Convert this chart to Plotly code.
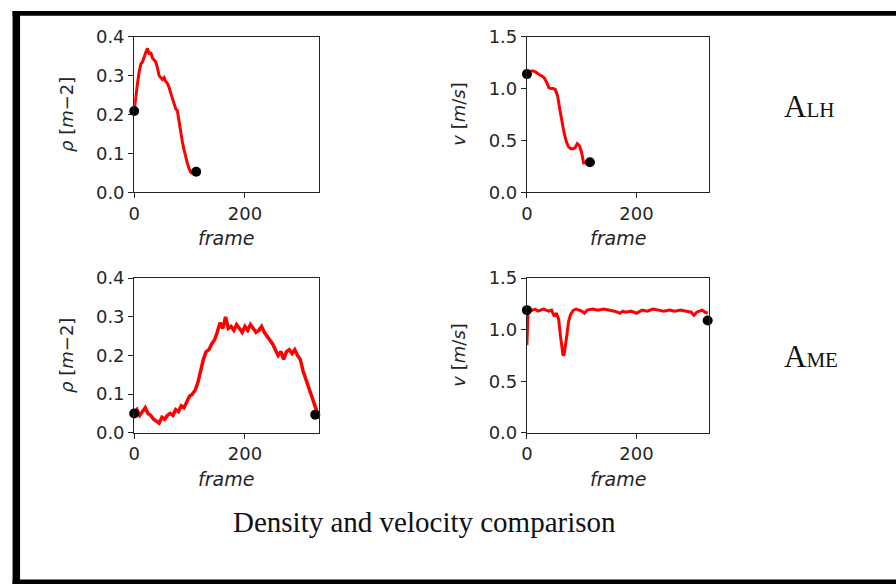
import plotly.graph_objects as go

W, H = 896, 596

# ---------------- data ----------------
alh_rho_frames = [0, 3, 6, 9, 12, 15, 18, 21, 24, 27, 30, 33, 36, 39, 42, 45, 48, 51,
                  54, 57, 60, 63, 66, 69, 72, 75, 78, 81, 84, 87, 90, 93, 96, 99, 102, 105]
alh_rho = [0.21, 0.25, 0.28, 0.31, 0.33, 0.335, 0.35, 0.36, 0.37, 0.355, 0.36, 0.345,
           0.34, 0.335, 0.32, 0.30, 0.295, 0.29, 0.295, 0.285, 0.28, 0.27, 0.255, 0.24,
           0.23, 0.215, 0.21, 0.18, 0.16, 0.13, 0.11, 0.09, 0.075, 0.062, 0.052, 0.048]
alh_rho_dot_frames = [0, 112]
alh_rho_dots = [0.209, 0.053]

alh_v_frames = [0, 4, 8, 12, 16, 20, 24, 28, 32, 36, 40, 44, 48, 52, 56, 60, 64, 68,
                72, 76, 80, 84, 88, 92, 96, 100, 104]
alh_v = [1.13, 1.16, 1.17, 1.17, 1.16, 1.14, 1.13, 1.12, 1.10, 1.06, 1.01, 1.00, 1.00,
         0.99, 0.93, 0.80, 0.68, 0.57, 0.49, 0.44, 0.42, 0.42, 0.43, 0.47, 0.45, 0.38, 0.27]
alh_v_dot_frames = [0, 115]
alh_v_dots = [1.14, 0.29]

ame_rho_frames = [0, 5, 10, 15, 20, 25, 30, 35, 40, 45, 50, 55, 60, 65, 70, 75, 80, 85,
                  90, 95, 100, 105, 110, 115, 120, 125, 130, 135, 140, 145, 150, 155,
                  160, 165, 170, 175, 180, 185, 190, 195, 200, 205, 210, 215, 220, 225,
                  230, 235, 240, 245, 250, 255, 260, 265, 270, 275, 280, 285, 290, 295,
                  300, 305, 310, 315, 320, 325, 330]
ame_rho = [0.05, 0.06, 0.045, 0.055, 0.065, 0.05, 0.045, 0.035, 0.03, 0.025, 0.04, 0.035,
           0.045, 0.05, 0.045, 0.06, 0.055, 0.07, 0.065, 0.08, 0.095, 0.10, 0.11, 0.13,
           0.16, 0.19, 0.21, 0.215, 0.23, 0.24, 0.26, 0.285, 0.27, 0.30, 0.27, 0.275,
           0.265, 0.28, 0.27, 0.26, 0.275, 0.265, 0.28, 0.27, 0.26, 0.265, 0.275, 0.26,
           0.25, 0.24, 0.23, 0.215, 0.20, 0.21, 0.19, 0.21, 0.215, 0.205, 0.215, 0.20,
           0.19, 0.16, 0.14, 0.12, 0.10, 0.08, 0.055]
ame_rho_dot_frames = [0, 327]
ame_rho_dots = [0.05, 0.047]

ame_v_frames = [0, 2, 4, 10, 15, 20, 25, 30, 35, 40, 45, 50, 54, 58, 61, 64, 66, 68, 70,
                73, 76, 80, 85, 90, 95, 100, 105, 110, 120, 130, 140, 150, 160, 170, 175,
                180, 190, 200, 210, 220, 230, 240, 250, 260, 270, 280, 290, 300, 305,
                310, 315, 320, 325, 330]
ame_v = [0.85, 1.18, 1.20, 1.19, 1.20, 1.18, 1.19, 1.20, 1.19, 1.18, 1.19, 1.13, 1.16,
         1.10, 0.95, 0.80, 0.75, 0.76, 0.82, 0.95, 1.08, 1.15, 1.19, 1.20, 1.19, 1.18,
         1.16, 1.19, 1.20, 1.19, 1.20, 1.19, 1.18, 1.16, 1.18, 1.17, 1.18, 1.16, 1.19,
         1.18, 1.20, 1.19, 1.18, 1.19, 1.18, 1.19, 1.18, 1.17, 1.14, 1.17, 1.18, 1.19,
         1.17, 1.16]
ame_v_dot_frames = [0, 330]
ame_v_dots = [1.19, 1.09]

x_ticks = [0, 200]
rho_ticks = [0.0, 0.1, 0.2, 0.3, 0.4]
rho_ticklabels = ["0.0", "0.1", "0.2", "0.3", "0.4"]
v_ticks = [0.0, 0.5, 1.0, 1.5]
v_ticklabels = ["0.0", "0.5", "1.0", "1.5"]

rho_title = "<i>ρ</i> [<i>m</i>−2]"
v_title = "<i>v</i> [<i>m</i>/<i>s</i>]"
x_title = "<i>frame</i>"
row_labels = ["A<span style='font-size:21px'>LH</span>",
              "A<span style='font-size:21px'>ME</span>"]
caption = "Density and velocity comparison"

# ---------------- geometry: reference pixel coords -> paper fractions ----------------
SX, OX = 0.9965, 3.4
SY, OY = 0.967, 9.2


def px(x):
    return ((x - OX) / SX) / W


def py(y):
    return 1 - ((y - OY) / SY) / H


col_dom = [[px(132), px(317)], [px(526), px(709)]]
row_dom = [[py(191), py(35)], [py(432), py(277)]]

fig = go.Figure()

panels = [
    (1, 0, 0, alh_rho_frames, alh_rho, alh_rho_dot_frames, alh_rho_dots, "rho"),
    (2, 1, 0, alh_v_frames, alh_v, alh_v_dot_frames, alh_v_dots, "v"),
    (3, 0, 1, ame_rho_frames, ame_rho, ame_rho_dot_frames, ame_rho_dots, "rho"),
    (4, 1, 1, ame_v_frames, ame_v, ame_v_dot_frames, ame_v_dots, "v"),
]

tick_font = dict(family="DejaVu Sans", size=18, color="#262626")
layout_axes = {}
annotations = []

for idx, col, row, fr, vals, dfr, dv, kind in panels:
    xa = "x" if idx == 1 else f"x{idx}"
    ya = "y" if idx == 1 else f"y{idx}"
    lw = 3.5 if idx == 3 else 3
    fig.add_trace(go.Scatter(x=fr, y=vals, mode="lines",
                             line=dict(color="#ff0000", width=lw),
                             xaxis=xa, yaxis=ya, showlegend=False, hoverinfo="skip"))
    fig.add_trace(go.Scatter(x=dfr, y=dv, mode="markers",
                             marker=dict(color="black", size=10),
                             xaxis=xa, yaxis=ya, showlegend=False, cliponaxis=False,
                             hoverinfo="skip"))
    xkey = "xaxis" if idx == 1 else f"xaxis{idx}"
    ykey = "yaxis" if idx == 1 else f"yaxis{idx}"
    common = dict(showline=True, mirror=True, linecolor="#222", linewidth=1,
                  ticks="outside", ticklen=5, tickcolor="#222", tickwidth=1,
                  showgrid=False, zeroline=False, tickfont=tick_font, fixedrange=True)
    layout_axes[xkey] = dict(domain=col_dom[col], range=[0, 333], anchor=ya,
                             tickvals=x_ticks, ticktext=[str(t) for t in x_ticks], **common)
    if kind == "rho":
        layout_axes[ykey] = dict(domain=row_dom[row], range=[0, 0.4], anchor=xa,
                                 tickvals=rho_ticks, ticktext=rho_ticklabels, **common)
    else:
        layout_axes[ykey] = dict(domain=row_dom[row], range=[0, 1.5], anchor=xa,
                                 tickvals=v_ticks, ticktext=v_ticklabels, **common)
    cx = (col_dom[col][0] + col_dom[col][1]) / 2
    cy = (row_dom[row][0] + row_dom[row][1]) / 2
    annotations.append(dict(text=x_title, x=cx, y=py(237 if row == 0 else 478),
                            xref="paper", yref="paper", showarrow=False,
                            font=dict(family="DejaVu Sans", size=19, color="#262626"),
                            xanchor="center", yanchor="middle"))
    annotations.append(dict(text=rho_title if kind == "rho" else v_title,
                            x=px(64 if col == 0 else 457), y=cy,
                            xref="paper", yref="paper", showarrow=False, textangle=-90,
                            font=dict(family="DejaVu Sans", size=18, color="#262626"),
                            xanchor="center", yanchor="middle"))

annotations.append(dict(text=row_labels[0], x=px(809), y=py(105), xref="paper",
                        yref="paper", showarrow=False,
                        font=dict(family="Liberation Serif", size=31, color="#111"),
                        xanchor="center", yanchor="middle"))
annotations.append(dict(text=row_labels[1], x=px(811), y=py(356), xref="paper",
                        yref="paper", showarrow=False,
                        font=dict(family="Liberation Serif", size=31, color="#111"),
                        xanchor="center", yanchor="middle"))
annotations.append(dict(text=caption, x=px(423), y=py(521), xref="paper",
                        yref="paper", showarrow=False,
                        font=dict(family="Liberation Serif", size=29, color="#111"),
                        xanchor="center", yanchor="middle"))

shapes = [
    # thick black frame of the reference picture (left, top, bottom edges)
    dict(type="rect", xref="paper", yref="paper", x0=px(10), x1=px(17.5), y0=0, y1=1,
         fillcolor="black", line=dict(width=0)),
    dict(type="rect", xref="paper", yref="paper", x0=px(10), x1=1, y0=py(14), y1=1,
         fillcolor="black", line=dict(width=0)),
    dict(type="rect", xref="paper", yref="paper", x0=px(10), x1=1, y0=0, y1=py(579),
         fillcolor="black", line=dict(width=0)),
]

fig.update_layout(width=W, height=H, margin=dict(l=0, r=0, t=0, b=0),
                  paper_bgcolor="white", plot_bgcolor="white",
                  annotations=annotations, shapes=shapes, **layout_axes)

fig.write_html("out.html", config={"displayModeBar": False, "staticPlot": True},
               post_script="document.body.style.margin='0';"
                           "document.documentElement.style.margin='0';"
                           "document.body.style.overflow='hidden';")
